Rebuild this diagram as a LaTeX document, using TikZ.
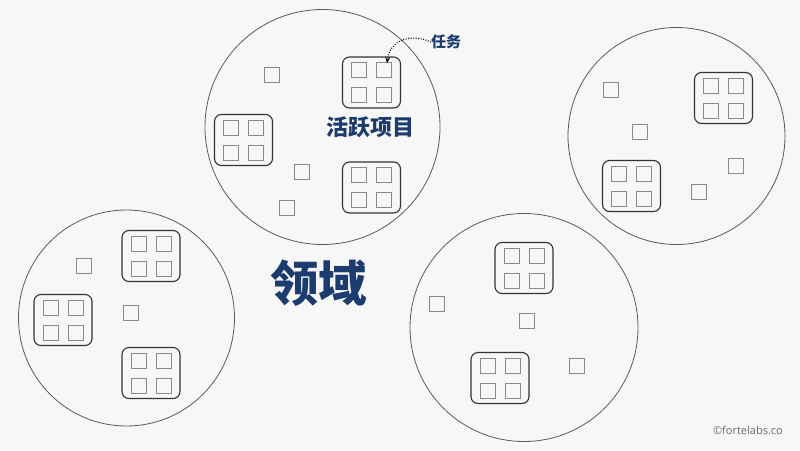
\documentclass[tikz,border=0pt]{standalone}
\usepackage{fontspec}
\setmainfont{Open Sans}
\newfontfamily\cjk{Noto Sans CJK SC}
\usetikzlibrary{arrows.meta}
\definecolor{bgcol}{HTML}{F7F7F7}
\definecolor{circcol}{HTML}{5A5A5A}
\definecolor{projcol}{HTML}{333333}
\definecolor{taskcol}{HTML}{8A8A8A}
\definecolor{titleblue}{HTML}{1C3B6E}
\definecolor{credit}{HTML}{6A6A6A}
\tikzset{
  areacircle/.style={circle, draw=circcol, line width=0.8pt, inner sep=0pt},
  projframe/.style={draw=projcol, rounded corners=7pt, line width=1.1pt, minimum width=58pt, minimum height=51pt, inner sep=0pt},
  taskbox/.style={draw=taskcol, line width=0.8pt, minimum size=15pt, inner sep=0pt},
  cjklabel/.style={text=titleblue, inner sep=0pt}
}
\newcommand\projbox[3]{%
  \node[projframe] (#1) at (#2,#3) {};
  \node[taskbox] (#1-a) at (#2-12.5,#3-12.5) {};
  \node[taskbox] (#1-b) at (#2+12.5,#3-12.5) {};
  \node[taskbox] (#1-c) at (#2-12.5,#3+12.5) {};
  \node[taskbox] (#1-d) at (#2+12.5,#3+12.5) {};
}
\begin{document}
\begin{tikzpicture}[x=1pt,y=-1pt]
\fill[bgcol] (0,0) rectangle (800,450);
\useasboundingbox (0,0) rectangle (800,450);
% areas
\node[areacircle, minimum size=235pt] (d1) at (322.5,127) {};
\node[areacircle, minimum size=217pt] (d2) at (676.5,136) {};
\node[areacircle, minimum size=216pt] (d3) at (126.5,318) {};
\node[areacircle, minimum size=228pt] (d4) at (524,327.5) {};
% top area
\projbox{p1}{371.5}{82.5}
\projbox{p2}{243.5}{140}
\projbox{p3}{371.5}{187.5}
\node[taskbox] (t1) at (272,75) {};
\node[taskbox] (t2) at (302,171.5) {};
\node[taskbox] (t3) at (286.5,208) {};
% right area
\projbox{p4}{723.5}{98}
\projbox{p5}{631.5}{186}
\node[taskbox] (t4) at (611,90) {};
\node[taskbox] (t5) at (640,132) {};
\node[taskbox] (t6) at (736,166) {};
\node[taskbox] (t7) at (699,192) {};
% bottom left area
\projbox{p6}{151}{256}
\projbox{p7}{63}{320}
\projbox{p8}{151}{373}
\node[taskbox] (t8) at (84,266) {};
\node[taskbox] (t9) at (131,313) {};
% bottom middle area
\projbox{p9}{524}{268}
\projbox{p10}{500}{378}
\node[taskbox] (t10) at (437,304) {};
\node[taskbox] (t11) at (527,321) {};
\node[taskbox] (t12) at (577,366) {};
% labels
\node[cjklabel, font=\cjk\bfseries\fontsize{15}{17}\selectfont, anchor=west] (lt) at (431,42) {任务};
\draw[line width=1.1pt, dash pattern=on 0.9pt off 1.6pt, -{Stealth[length=6pt,width=5pt]}] (lt.west) .. controls (410,33) and (390,40) .. ([xshift=3pt,yshift=-1pt]p1-b.north);
\node[cjklabel, font=\cjk\bfseries\fontsize{22}{25}\selectfont] (lp) at (370.5,127.5) {活跃项目};
\node[cjklabel, font=\cjk\bfseries\fontsize{48.5}{52}\selectfont] (ld) at (318.5,283) {领域};
\node[text=credit, font=\fontsize{11}{13}\selectfont, anchor=east, inner sep=0pt] (cr) at (783,430) {©fortelabs.co};
\end{tikzpicture}
\end{document}
